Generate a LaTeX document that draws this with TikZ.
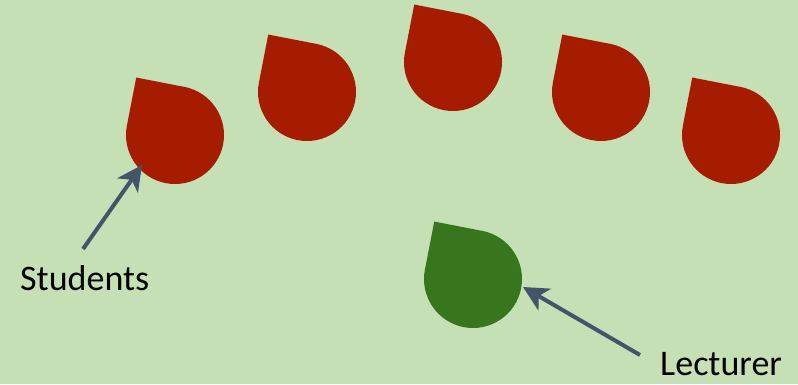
\documentclass[tikz,border=0pt]{standalone}
\usepackage{fontspec}
\setmainfont{Carlito}
\usepackage{xcolor}
\usepackage{tikz}
\usetikzlibrary{positioning,arrows.meta,calc}
\definecolor{paper}{RGB}{197,224,180}
\definecolor{deepred}{RGB}{166,28,0}
\definecolor{deepgreen}{RGB}{56,118,29}
\definecolor{slate}{RGB}{68,84,106}
\tikzset{
    dropred/.style={fill=deepred},
    dropgreen/.style={fill=deepgreen},
    lbl/.style={inner sep=0pt,text depth=0pt,font=\fontsize{36}{40}\selectfont,text=black},
    arr/.style={-{Stealth[length=25pt,width=25pt,inset=7pt]},line width=4pt,draw=slate},
}
\newcommand{\drop}[2]{\fill[#2,shift={(#1)},rotate=-11] (0,49) arc[start angle=90,end angle=-180,radius=49] -- (-49,49) -- cycle;}

\begin{document}
\begin{tikzpicture}[x=1pt,y=1pt]
\fill[paper] (0,0) rectangle (798,384);
\useasboundingbox (0,0) rectangle (798,384);
% students
\foreach \name/\pos in {s1/{175,249},s2/{307,292},s3/{453,322},s4/{601,292},s5/{731,249}}{
  \coordinate (\name) at (\pos);
  \drop{\name}{dropred}
}
% lecturer
\coordinate (lec) at (473,105);
\drop{lec}{dropgreen}

\node[lbl,anchor=base west] (students) at (20,94) {Students};
\node[lbl,anchor=base west] (lecturer) at (660,9) {Lecturer};

\coordinate (stud-tail) at (83,135);
\coordinate (stud-tip) at (142,219);
\coordinate (lec-tail) at (640,29);
\coordinate (lec-tip) at (523,97);

\draw[arr] (stud-tail) -- (stud-tip);
\draw[arr] (lec-tail) -- (lec-tip);
\end{tikzpicture}
\end{document}
